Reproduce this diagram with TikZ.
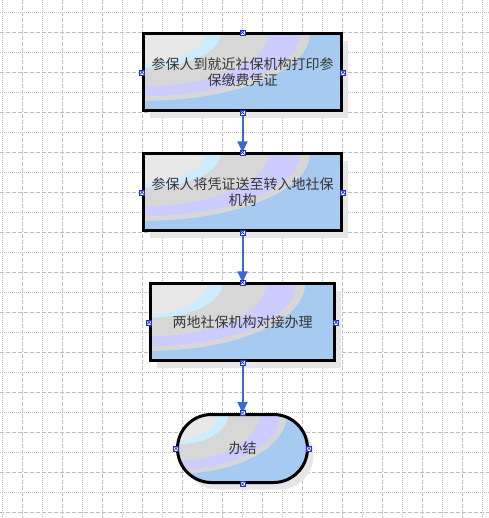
\documentclass[tikz,border=0pt]{standalone}
\usepackage{fontspec}
\newfontfamily\cjk{Noto Sans CJK SC}
\usetikzlibrary{arrows.meta}
\definecolor{gridc}{RGB}{190,190,190}
\definecolor{bblue}{RGB}{166,202,240}
\definecolor{bgray}{RGB}{215,215,215}
\definecolor{blav}{RGB}{204,204,255}
\definecolor{bcyan}{RGB}{204,236,255}
\definecolor{blight}{RGB}{232,232,232}
\definecolor{shadowc}{RGB}{230,230,230}
\definecolor{arrowc}{RGB}{55,105,210}
\definecolor{txtc}{RGB}{55,55,55}
\definecolor{cptc}{RGB}{30,50,200}

\newcommand\bandfill[4]{%
  \fill[bblue] ({#1-#3/2},{#2-#4/2}) rectangle ({#1+#3/2},{#2+#4/2});
  \fill[bgray] ({#1-#3/2},{#2-#4/2}) ellipse [x radius={0.84*#3}, y radius={0.87*#4}];
  \fill[blav] ({#1-#3/2},{#2-#4/2}) ellipse [x radius={0.79*#3}, y radius={0.81*#4}];
  \fill[bgray] ({#1-#3/2},{#2-#4/2}) ellipse [x radius={0.63*#3}, y radius={0.68*#4}];
  \fill[bcyan] ({#1-#3/2},{#2-#4/2}) ellipse [x radius={0.39*#3}, y radius={0.44*#4}];
  \fill[blight] ({#1-#3/2-3},{#2-#4/2-2}) ellipse [x radius={0.33*#3}, y radius={0.42*#4}];
}
\newcommand\boxback[5]{% cx cy w h corner
  \begin{scope}
    \fill[shadowc, rounded corners=#5] ({#1-#3/2+6},{#2-#4/2+7}) rectangle ({#1+#3/2+6},{#2+#4/2+7});
    \clip[rounded corners=#5] ({#1-#3/2},{#2-#4/2}) rectangle ({#1+#3/2},{#2+#4/2});
    \bandfill{#1}{#2}{#3}{#4}
  \end{scope}
}

\tikzset{
  gdot/.style={gridc, line width=0.75pt, dash pattern=on 0.75pt off 0.75pt},
  gdash/.style={gridc, line width=0.75pt, dash pattern=on 3pt off 1.5pt},
  procbox/.style={draw=black, line width=2.25pt, rectangle, inner sep=0pt, align=center,
    font=\cjk\fontsize{10.5pt}{12.5pt}\selectfont, text=txtc},
  flow/.style={draw=arrowc, line width=1.5pt, -{Triangle[width=7.5pt,length=8.25pt]}},
  cpt/.pic={\fill[white] (-2.5,-2.5) rectangle (2.5,2.5);
    \draw[cptc, line width=0.5pt] (-2.2,-2.2) -- (2.2,2.2) (-2.2,2.2) -- (2.2,-2.2);
    \draw[cptc, line width=0.3pt] (-2.5,-2.5) rectangle (2.5,2.5);}
}

\begin{document}
\begin{tikzpicture}[x=0.75pt, y=-0.75pt]
  \fill[white] (0,0) rectangle (489,518);
  \useasboundingbox (0,0) rectangle (489,518);
  % grid
  \foreach \k in {0,...,24}{%
    \ifodd\k \draw[gdash] ({2.5+20*\k},0) -- ({2.5+20*\k},518);
    \else \draw[gdot] ({2.5+20*\k},0) -- ({2.5+20*\k},518); \fi}
  \foreach \k in {0,...,25}{%
    \ifodd\k \draw[gdash] (0,{12.5+20*\k}) -- (489,{12.5+20*\k});
    \else \draw[gdot] (0,{12.5+20*\k}) -- (489,{12.5+20*\k}); \fi}

  % backgrounds
  \boxback{242.5}{72.3}{198}{77}{0pt}
  \boxback{242.5}{192.3}{198}{77}{0pt}
  \boxback{242.5}{322.3}{184}{77}{0pt}
  \boxback{242.5}{448.5}{130}{68}{25.5pt}

  % nodes
  \node[procbox, minimum width=148.5pt, minimum height=57.75pt] (b1) at (242.5,72.3)
    {参保人到就近社保机构打印参\\保缴费凭证};
  \node[procbox, minimum width=148.5pt, minimum height=57.75pt] (b2) at (242.5,192.3)
    {参保人将凭证送至转入地社保\\机构};
  \node[procbox, minimum width=138pt, minimum height=57.75pt] (b3) at (242.5,322.3)
    {两地社保机构对接办理};
  \node[procbox, rounded corners=25.5pt, minimum width=97.5pt, minimum height=51pt] (b4) at (242.5,448.5)
    {办结};

  % connectors
  \draw[flow] (b1) -- (b2);
  \draw[flow] (b2) -- (b3);
  \draw[flow] (b3) -- (b4);

  % connection points
  \foreach \n in {b1,b2,b3,b4}{
    \foreach \a in {north,south,east,west}{
      \pic at (\n.\a) {cpt};
    }
  }
\end{tikzpicture}
\end{document}
